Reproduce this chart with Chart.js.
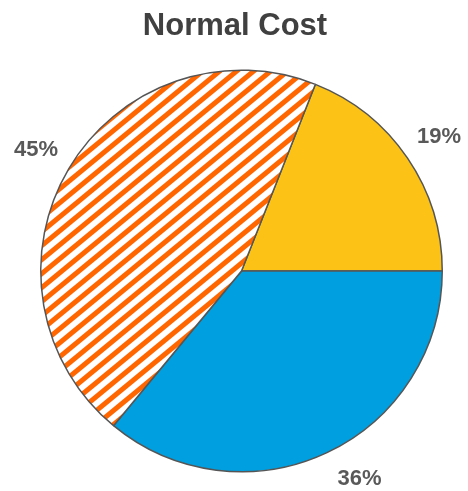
<!DOCTYPE html>
<html>
<head>
<meta charset="utf-8">
<script src="https://cdn.jsdelivr.net/npm/chart.js@4/dist/chart.umd.min.js"></script>
<style>
  html, body { margin: 0; padding: 0; background: #ffffff; }
  #wrap { width: 468px; height: 491px; }
</style>
</head>
<body>
<div id="wrap"><canvas id="c" width="468" height="491"></canvas></div>
<script>
const chartTitle = "Normal Cost";
const categories = ["Segment A", "Segment B", "Segment C"];
const values = [19, 36, 45];
const valueLabels = ["19%", "36%", "45%"];

function makeHatch() {
  const W = 17, H = 13.5;
  const t = document.createElement('canvas');
  t.width = W; t.height = Math.round(H);
  const g = t.getContext('2d');
  const h = t.height;
  g.fillStyle = '#ffffff';
  g.fillRect(0, 0, W, h);
  g.strokeStyle = '#ff6600';
  g.lineWidth = 5;
  for (let c = 0; c <= 2; c++) {
    // line x/W + y/h = c
    g.beginPath();
    g.moveTo(c * W + W, -h);
    g.lineTo(c * W - 2 * W, 2 * h);
    g.stroke();
  }
  return g.createPattern(t, 'repeat');
}

const ctx0 = document.getElementById('c').getContext('2d');
const hatch = makeHatch();
const total = values.reduce((a, b) => a + b, 0);

const labelPlugin = {
  id: 'sliceLabels',
  afterDatasetsDraw(chart) {
    const ctx = chart.ctx;
    const meta = chart.getDatasetMeta(0);
    ctx.save();
    ctx.font = 'bold 22px "Liberation Sans", Arial, sans-serif';
    ctx.fillStyle = '#595959';
    ctx.textAlign = 'center';
    ctx.textBaseline = 'middle';
    const maxY = chart.height - 12.5;
    meta.data.forEach((arc, i) => {
      const p = arc.getProps(['x', 'y', 'startAngle', 'endAngle', 'outerRadius'], true);
      const mid = (p.startAngle + p.endAngle) / 2;
      const R = p.outerRadius + 38;
      let a = mid;
      let y = p.y + R * Math.sin(a);
      if (y > maxY) {
        const s = (maxY - p.y) / R;
        const base = Math.asin(s);
        a = Math.cos(mid) >= 0 ? base : Math.PI - base;
      }
      const x = p.x + R * Math.cos(a);
      y = p.y + R * Math.sin(a);
      ctx.fillText(valueLabels[i], x, y);
    });
    ctx.restore();
  }
};

const titlePlugin = {
  id: 'customTitle',
  afterDraw(chart) {
    const ctx = chart.ctx;
    ctx.save();
    ctx.font = 'bold 31px "Liberation Sans", Arial, sans-serif';
    ctx.fillStyle = '#404040';
    ctx.textAlign = 'center';
    ctx.textBaseline = 'alphabetic';
    ctx.fillText(chartTitle, 235, 35);
    ctx.restore();
  }
};

new Chart(ctx0, {
  type: 'pie',
  data: {
    labels: categories,
    datasets: [{
      data: values,
      backgroundColor: ['#fcc216', '#009fdf', hatch],
      borderColor: '#555555',
      borderWidth: 1.5
    }]
  },
  options: {
    responsive: false,
    animation: false,
    rotation: 90 - values[0] / total * 360,
    layout: { padding: { top: 69, bottom: 18, left: 40, right: 25 } },
    plugins: {
      legend: { display: false },
      tooltip: { enabled: false },
      title: { display: false }
    }
  },
  plugins: [labelPlugin, titlePlugin]
});
</script>
</body>
</html>
